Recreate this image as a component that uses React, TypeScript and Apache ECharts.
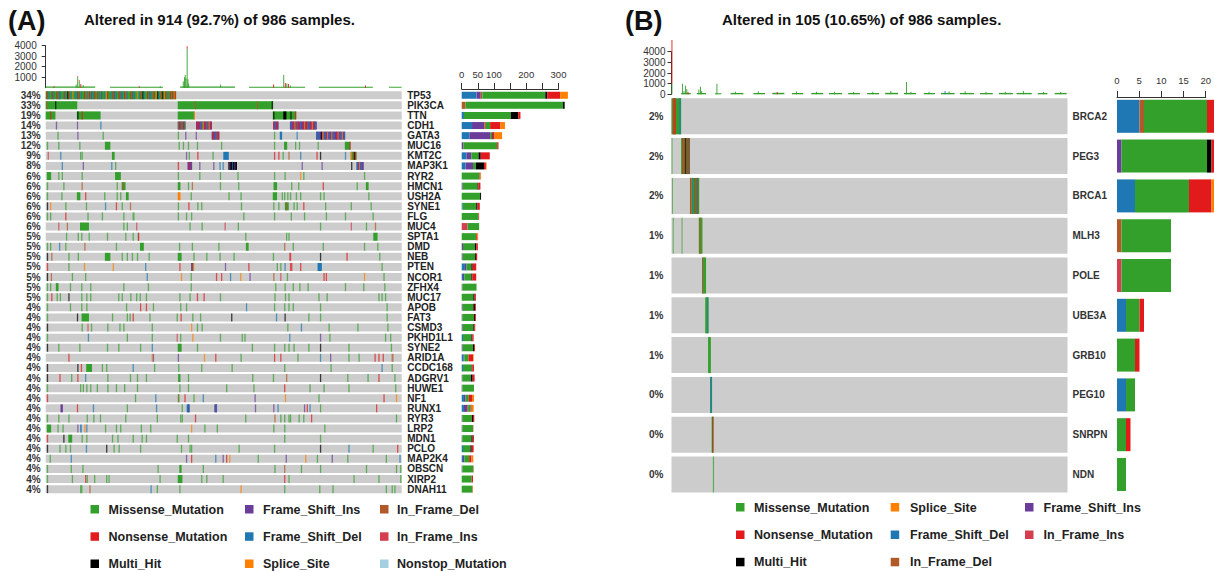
import React, { useEffect, useRef } from 'react';
import * as echarts from 'echarts';

const FONT = "'Liberation Sans', Arial, sans-serif";

// ---------- classes ----------
const classNames = ['Missense_Mutation', 'Nonsense_Mutation', 'Multi_Hit', 'Frame_Shift_Ins', 'Frame_Shift_Del', 'Splice_Site', 'In_Frame_Del', 'In_Frame_Ins', 'Nonstop_Mutation'];
const classCodes = ['M', 'N', 'H', 'I', 'D', 'S', 'F', 'R', 'X'];
const classColors = ['#33A02C', '#E31A1C', '#000000', '#6A3D9A', '#1F78B4', '#FF7F00', '#B15928', '#D53E4F', '#A6CEE3'];
const stackOrder = ['D', 'I', 'F', 'R', 'M', 'H', 'N', 'X', 'S'];

// ---------- panel A ----------
const titleA = 'Altered in 914 (92.7%) of 986 samples.';
const samplesA = 914;
const genesA = ['TP53', 'PIK3CA', 'TTN', 'CDH1', 'GATA3', 'MUC16', 'KMT2C', 'MAP3K1', 'RYR2', 'HMCN1', 'USH2A', 'SYNE1', 'FLG', 'MUC4', 'SPTA1', 'DMD', 'NEB', 'PTEN', 'NCOR1', 'ZFHX4', 'MUC17', 'APOB', 'FAT3', 'CSMD3', 'PKHD1L1', 'SYNE2', 'ARID1A', 'CCDC168', 'ADGRV1', 'HUWE1', 'NF1', 'RUNX1', 'RYR3', 'LRP2', 'MDN1', 'PCLO', 'MAP2K4', 'OBSCN', 'XIRP2', 'DNAH11'];
const pctA = [34, 33, 19, 14, 13, 12, 9, 8, 6, 6, 6, 6, 6, 6, 5, 5, 5, 5, 5, 5, 5, 4, 4, 4, 4, 4, 4, 4, 4, 4, 4, 4, 4, 4, 4, 4, 4, 4, 4, 4];

// mutation marks per gene: "start[-end]Class" (sample indices)
const matrixA = [
  '0-334M 2-3N 7-9D 15-16N 19-20D 27-28N 33I 36-37D 46N 50-51D 55H 58-59N 63-64D 68S 75-76D 80I 84-85N 90-91D 98-99N 103F 106-107D 111N 116I 120-121D 124N 132-133N 137-138D 142I 149-150D 154S 158-159N 166-167D 171N 175I 179-180D 187-188N 192I 196-197D 201N 205F 208-209D 217-218N 222I 226-227D 234S 239-240D 243-244N 248H 251-252D 260-261N 265I 269-270D 274F 277-278N 282S 286H 290-291D 295N 299H 303S 307-308N 312-313D 318-319N 322F 324-325N 329S 331-332N',
  '0-80M 2F 24H 339-583M 383F 542F 580H',
  '0-24M 11N 80-140M 81H 92N 339-381M 380S 583-642M 584H 610-617H 628H 640N',
  '26I 80I 140D 339-358I 339-341M 342-343N 346-347F 349-351M 353-354N 356-358M 386-426I 386-388N 391-393N 396-397D 401-402M 403-405S 407-409N 411-412F 414-416D 418-420S 422-424N 584-597I 584-586N 588-590D 593-595N 627-695I 629-631D 633-635N 638-640S 644-646F 648-650N 653-655D 659-661N 663-665S 667-669N 671-672F 674-676D 679-681N 683-685S 687-689N 691-693D',
  '30M 81I 146M 339M 358I 385I 426-445I 428-431N 434-436D 438-440F 442-444N 586M 601-606D 644D 694-768I 694-697D 700-702D 706-707H 710-713S 716-718D 722-724S 728-729D 733-735S 738-741D 745-746N 749-751S 755-757D 760-762S 765-767D',
  '3M 32M 86M 152-165M 341M 352M 365M 388M 450M 586M 612-619M 640M 650M 698M 768-781M 780N',
  '5R 37D 88M 92M 170-176M 360I 367M 389N 428M 456-469D 586N 597N 608M 623F 653D 695N 704H 768D 783-797M 783-785S 787-789F 791-793H 794-796N',
  '41D 95I 168D 178M 339N 364-375I 368-370N 394I 430I 446D 454D 469-490H 471-473I 478-480D 484-486I 657I 708I 784H 798-815I 798-801D 804-806S 809-811D 813-814I',
  '3-13M 32M 41M 92M 178-192M 339M 394M 447M 492M 586M 613M 653S 661M 817M',
  '3M 45M 92F 182M 195-204M 196-198F 339-345M 365M 375F 447M 494M 585-593M 630M 648M 711N 798M 822-828M',
  '3M 40M 80-88M 101N 150M 182M 191M 206-212M 339-345S 372M 469M 500M 583-593M 606M 612M 620M 627M 642M 653M 704M 713M 828M',
  '3H 11S 50M 103M 152D 180N 195M 216F 339M 366N 389M 399M 501M 584M 597M 614-623M 616F 636M 644M 661N 717M 783M 834M',
  '3M 11M 50N 107M 144M 199M 223-227M 339M 360M 373M 507M 586M 629M 663M 719M 768M 839M',
  '32R 54F 88-110M 199M 208M 232R 369M 400M 459R 493M 704M 783R 822M 845F',
  '52M 82M 91M 110M 157M 204M 223M 236M 237N 512M 617M 623M 841-851M',
  '3M 11M 34D 50M 99F 180M 242-251M 342M 375M 443M 514-520M 612F 634M 711M 817M 851M',
  '3H 14F 58M 82M 152-165M 195M 208M 221M 234M 264M 339-348M 379M 412M 446M 482M 583M 625R 627N 704H 772N 856M',
  '3N 58M 98S 172S 255D 343N 373-379D 374N 378S 460I 520N 593M 602M 613D 627N 630N 653N 698-708D 862M',
  '3H 13F 67M 101M 259D 347S 372M 437N 450N 473D 499S 523I 584F 602R 619M 713N 719N 817S 867M',
  '3M 11M 26-32M 62M 91M 114M 199M 262M 372M 589M 613M 634M 651M 672M 768M 815M 869M',
  '3M 14N 28M 36M 58H 91M 104M 114M 186M 195M 217M 232M 241M 257M 343M 369M 388N 405N 447M 587M 614M 623M 700M 721M 854M 862M 871M',
  '3M 62M 91M 104M 206M 242N 257N 275M 345M 360M 514D 586M 612M 623M 634M 704M 875M',
  '3M 80H 92-110M 170M 208M 215M 223N 266M 336M 346N 376M 396M 476H 591D 613H 674M 704M 875M',
  '3H 92M 107R 116M 158M 189M 199M 272M 373S 388M 400M 620M 655D 726M 800M 877M',
  '3M 108D 208M 272M 336R 345M 376S 447M 503M 510M 625D 704I 728M 871M 884M',
  '3H 32M 86M 157M 186M 242M 272D 339-348M 388M 529M 586M 612M 623M 636M 674M 704H 777M 886M',
  '58N 272S 275I 339I 406S 435N 500M 586N 602N 646M 704D 730I 777M 803M 844N 854N 865N 888-892F',
  '3H 81H 90N 104-118M 144M 155M 223D 278M 340M 399M 477M 612M 731M 862D 888M',
  '3H 35N 65M 81N 101D 158M 216M 234M 257M 340-345M 365M 530M 583M 617F 704H 774M 826M 854N 895M',
  '3M 88M 95M 104M 114M 131M 158M 180M 201M 234M 343M 365M 463M 533M 612N 677M 713M 777M 897M',
  '3N 229M 281D 339-342F 340M 356N 379M 403D 536I 614S 700M 867N 899S',
  '38-43I 80N 121D 208M 283D 349M 362-369D 365I 433-439I 436D 537I 584I 595D 663I 670N 677D 704M 848N',
  '3M 32M 58M 105M 122M 139M 204M 285M 345M 349M 383N 512M 587F 602M 612M 623M 627M 649M 661M 681N 899M',
  '3-13M 30M 43M 81I 88-92D 99S 104D 152M 180M 191M 244M 268M 373S 407M 439M 584M 612M 715M',
  '3N 45H 58-67M 92M 104M 170M 184M 223M 246M 257M 336M 365M 612M 704M',
  '3H 35M 50M 62M 103D 155H 174M 187M 242M 347M 369M 373M 495M 586M 704H 777D 839M 902N',
  '10M 64D 360I 373N 435D 454I 463N 471S 544M 616I 666S 696M 734I 774M 873M 908D',
  '3M 64M 94M 287M 343-348M 403M 587M 612F 655M 704M 822M 899M 910M',
  '3M 67M 101N 105M 124M 155M 161M 292M 339-350M 399M 412M 454M 612N 623M 790M 854M 910M',
  '3H 88M 91M 112F 269D 285M 343M 500S 612M 702M 736M 873M 888M 895M',
];

// TMB (total mutations per sample): [startSample, endSample, from, to, class]
const tmbA: [number, number, number, number, string][] = [
  [0, 127, 0, 110, 'M'], [165, 301, 0, 100, 'M'], [345, 486, 0, 110, 'M'], [522, 666, 0, 100, 'M'], [701, 840, 0, 100, 'M'], [881, 914, 0, 90, 'M'],
  [20, 21, 0, 150, 'N'], [77, 78, 0, 300, 'M'], [81, 82, 0, 1000, 'M'], [81, 82, 1000, 1100, 'N'], [85, 86, 0, 600, 'M'], [85, 86, 600, 700, 'N'],
  [89, 90, 0, 350, 'N'], [95, 96, 0, 250, 'M'], [239, 240, 0, 150, 'N'], [293, 294, 0, 150, 'M'],
  [352, 353, 0, 600, 'M'], [355, 356, 0, 1000, 'M'], [357, 358, 0, 1200, 'M'], [359, 360, 0, 900, 'M'], [362, 363, 0, 3700, 'M'], [362, 363, 3700, 3950, 'N'],
  [364, 365, 0, 800, 'M'], [366, 367, 0, 400, 'M'], [448, 449, 0, 300, 'M'], [584, 585, 0, 300, 'N'], [610, 611, 0, 1200, 'M'],
  [614, 615, 0, 450, 'N'], [618, 619, 0, 400, 'M'], [622, 623, 0, 350, 'N'], [627, 628, 0, 200, 'M'], [820, 821, 0, 200, 'N'],
];

// variant classification counts per gene (right bar)
const aFrameShiftDel = [46, 0, 7, 32, 24, 0, 15, 12, 0, 0, 0, 3, 0, 0, 0, 0, 0, 10, 4, 0, 0, 0, 0, 0, 4, 0, 6, 4, 0, 0, 7, 7, 0, 0, 0, 4, 4, 0, 0, 0];
const aFrameShiftIns = [13, 0, 0, 38, 64, 5, 15, 23, 0, 3, 0, 0, 0, 0, 0, 4, 3, 5, 4, 2, 0, 3, 2, 3, 0, 3, 2, 0, 2, 2, 5, 10, 2, 2, 2, 0, 4, 2, 0, 0];
const aInFrameDel = [5, 12, 0, 5, 0, 0, 0, 0, 0, 0, 0, 0, 0, 0, 0, 0, 0, 0, 0, 0, 0, 0, 0, 0, 0, 0, 0, 0, 0, 0, 0, 3, 0, 0, 0, 0, 0, 0, 0, 0];
const aInFrameIns = [0, 0, 0, 0, 0, 0, 0, 0, 0, 0, 0, 0, 0, 18, 0, 0, 0, 0, 0, 0, 0, 0, 0, 0, 0, 0, 0, 0, 0, 0, 0, 0, 0, 0, 0, 0, 0, 0, 0, 0];
const aMissense = [195, 302, 145, 13, 5, 105, 22, 9, 55, 46, 57, 42, 52, 36, 45, 37, 38, 15, 22, 44, 36, 33, 36, 33, 26, 32, 13, 27, 26, 36, 10, 8, 30, 33, 28, 23, 15, 34, 31, 33];
const aMultiHit = [6, 5, 23, 0, 3, 0, 7, 25, 0, 3, 3, 4, 0, 0, 0, 4, 3, 4, 3, 0, 4, 5, 3, 3, 3, 3, 0, 2, 6, 0, 0, 0, 3, 0, 4, 4, 0, 0, 0, 0];
const aNonsense = [40, 0, 7, 32, 6, 4, 28, 6, 3, 6, 0, 7, 2, 0, 4, 5, 4, 11, 12, 0, 4, 3, 3, 3, 4, 3, 14, 5, 6, 0, 10, 3, 4, 1, 4, 6, 7, 1, 4, 1];
const aNonstop = [0, 0, 0, 0, 0, 0, 0, 0, 0, 0, 0, 0, 0, 0, 0, 0, 0, 0, 0, 0, 0, 0, 0, 0, 0, 0, 0, 0, 0, 0, 0, 0, 0, 0, 0, 0, 0, 0, 0, 0];
const aSplice = [24, 0, 0, 14, 23, 0, 0, 2, 2, 0, 0, 0, 0, 0, 2, 0, 0, 0, 0, 0, 0, 0, 0, 0, 0, 0, 2, 0, 0, 0, 6, 6, 0, 0, 0, 0, 6, 0, 0, 1];
const barTicksA = [0, 50, 100, 200, 300];

// ---------- panel B ----------
const titleB = 'Altered in 105 (10.65%) of 986 samples.';
const samplesB = 986;
const genesB = ['BRCA2', 'PEG3', 'BRCA1', 'MLH3', 'POLE', 'UBE3A', 'GRB10', 'PEG10', 'SNRPN', 'NDN'];
const pctB = [2, 2, 2, 1, 1, 1, 1, 0, 0, 0];
const matrixB = [
  '0-23M 3-9F 5-6N 8-9N 19-22D',
  '0M 24-45M 26-27N 28-29F 31-32N 34-35H 37-38N 40-41I 43-44N',
  '1M 46-68M 46-47N 48-49S 50-53D 57-58N 61-62D 64-65N',
  '3M 25M 68-76M 69-72F',
  '76-85M 76-77R',
  '84-91M 89-91D',
  '91-97M',
  '96-100D 97-98M',
  '100-104M 101-103N',
  '103-105M',
];
const tmbB: [number, number, number, number, string][] = [
  [0, 1, 1000, 5100, 'N'], [0, 2, 0, 1000, 'M'],
  [24, 48, 0, 120, 'M'], [26, 27, 0, 1000, 'M'], [30, 31, 0, 300, 'M'], [34, 35, 0, 800, 'M'], [37, 38, 0, 500, 'M'], [40, 41, 0, 250, 'N'],
  [63, 86, 0, 120, 'M'], [67, 68, 0, 450, 'M'], [71, 72, 0, 700, 'M'], [74, 75, 0, 300, 'M'],
  [108, 124, 0, 100, 'M'], [112, 113, 0, 1000, 'M'],
  [147, 179, 0, 130, 'M'], [158, 159, 0, 250, 'M'], [204, 233, 0, 120, 'M'], [215, 216, 0, 280, 'M'],
  [251, 281, 0, 140, 'M'], [262, 263, 0, 220, 'N'], [300, 328, 0, 120, 'M'], [310, 311, 0, 260, 'M'],
  [348, 378, 0, 130, 'M'], [360, 361, 0, 230, 'M'], [392, 425, 0, 120, 'M'], [405, 406, 0, 250, 'M'],
  [440, 469, 0, 130, 'M'], [452, 453, 0, 210, 'M'], [487, 517, 0, 120, 'M'], [500, 501, 0, 240, 'M'],
  [532, 564, 0, 140, 'M'], [545, 546, 0, 300, 'M'], [579, 609, 0, 130, 'M'], [584, 585, 0, 1150, 'M'], [595, 596, 0, 250, 'M'],
  [628, 656, 0, 120, 'M'], [640, 641, 0, 230, 'M'], [671, 705, 0, 130, 'M'], [680, 681, 0, 300, 'D'], [690, 691, 0, 260, 'M'],
  [718, 753, 0, 130, 'M'], [730, 731, 0, 280, 'M'], [768, 800, 0, 120, 'M'], [782, 783, 0, 250, 'M'],
  [815, 850, 0, 130, 'M'], [830, 831, 0, 230, 'M'], [859, 897, 0, 130, 'M'], [875, 876, 0, 300, 'M'],
  [912, 936, 0, 120, 'M'], [925, 926, 0, 240, 'M'], [954, 984, 0, 130, 'M'], [968, 969, 0, 220, 'M'],
];
const bFrameShiftDel = [5, 0, 4, 0, 0, 2, 0, 2, 0, 0];
const bFrameShiftIns = [0, 1, 0, 0, 0, 0, 0, 0, 0, 0];
const bInFrameDel = [1, 0, 0, 1, 0, 0, 0, 0, 0, 0];
const bInFrameIns = [0, 0, 0, 0, 1, 0, 0, 0, 0, 0];
const bMissense = [14, 19, 12, 11, 11, 3, 4, 2, 2, 2];
const bMultiHit = [0, 1, 0, 0, 0, 0, 0, 0, 0, 0];
const bNonsense = [3, 2, 5, 0, 0, 1, 1, 0, 1, 0];
const bSplice = [0, 0, 1, 0, 0, 0, 0, 0, 0, 0];

const legendA = [['M', 'N', 'H'], ['I', 'D', 'S'], ['F', 'R', 'X']];
const legendB = [['M', 'N', 'H'], ['S', 'D', 'F'], ['I', 'R']];

// ---------- helpers ----------
const ci = (code: string) => classCodes.indexOf(code);

function parseMarks(rows: string[]) {
  const out: number[][] = [];
  rows.forEach((row, g) => {
    row.trim().split(/\s+/).forEach((tok) => {
      const m = tok.match(/^(\d+)(?:-(\d+))?([A-Z])$/);
      if (!m) return;
      const s = +m[1];
      const e = (m[2] ? +m[2] : s) + 1;
      out.push([s, e, g, ci(m[3])]);
    });
  });
  return out;
}

function rowRender(ratio: number, minW: number, fill?: string) {
  return (params: any, api: any) => {
    const s = api.value(0), e = api.value(1), g = api.value(2);
    const p0 = api.coord([s, g]);
    const p1 = api.coord([e, g]);
    const h = api.size([0, 1])[1] * ratio;
    const raw = p1[0] - p0[0];
    const w = Math.max(raw, minW);
    const color = fill || classColors[api.value(3)];
    const opacity = !fill && raw < 2 ? 0.72 : 1;
    return { type: 'rect', shape: { x: p0[0], y: p0[1] - h / 2, width: w, height: h }, style: { fill: color, opacity } };
  };
}

function tmbRender(params: any, api: any) {
  const s = api.value(0), e = api.value(1), lo = api.value(2), hi = api.value(3);
  const p0 = api.coord([s, lo]);
  const p1 = api.coord([e, hi]);
  const w = Math.max(p1[0] - p0[0], 0.9);
  return { type: 'rect', shape: { x: p0[0], y: p1[1], width: w, height: p0[1] - p1[1] }, style: { fill: classColors[api.value(4)] } };
}

function legendGraphics(cols: string[][], xs: number[][], ys: number[]) {
  const els: any[] = [];
  cols.forEach((col, c) => {
    col.forEach((code, r) => {
      const y = ys[r];
      els.push({ type: 'rect', shape: { x: xs[c][0], y: y - 4.5, width: 8.5, height: 8.5 }, style: { fill: classColors[ci(code)] } });
      els.push({ type: 'text', x: xs[c][1], y, style: { text: classNames[ci(code)], fontFamily: FONT, fontSize: 12.5, fontWeight: 'bold', fill: '#222', verticalAlign: 'middle', textVerticalAlign: 'middle' } });
    });
  });
  return els;
}

function buildOption() {
  const aBars: Record<string, number[]> = { D: aFrameShiftDel, I: aFrameShiftIns, F: aInFrameDel, R: aInFrameIns, M: aMissense, H: aMultiHit, N: aNonsense, X: aNonstop, S: aSplice };
  const bBars: Record<string, number[]> = { D: bFrameShiftDel, I: bFrameShiftIns, F: bInFrameDel, R: bInFrameIns, M: bMissense, H: bMultiHit, N: bNonsense, S: bSplice };

  const hidden = { show: false };
  const valAxisHidden = (gridIndex: number, max: number) => ({ type: 'value', gridIndex, min: 0, max, show: false });
  const catAxis = (gridIndex: number, data: string[], position: string, show: boolean, margin: number, color: string) => ({
    type: 'category', gridIndex, data, inverse: true, position, show,
    axisLine: hidden, axisTick: hidden,
    axisLabel: { show, interval: 0, margin, fontSize: 10, fontWeight: 'bold', fontFamily: FONT, color },
  });
  const tmbAxis = (gridIndex: number, offset: number, raiseZero: boolean) => ({
    type: 'value', gridIndex, min: 0, max: 4000, interval: 1000, position: 'left', offset,
    axisLine: { show: true, lineStyle: { color: '#333', width: 1 } },
    axisTick: { show: true, length: 4, lineStyle: { color: '#333' } },
    splitLine: hidden,
    axisLabel: {
      fontSize: 10, fontFamily: FONT, color: '#333', margin: 6,
      formatter: (v: number) => (raiseZero && v === 0 ? '{z|0}' : String(v)),
      rich: { z: { fontSize: 10, fontFamily: FONT, color: '#333', padding: [0, 0, 6, 0] } },
    },
  });

  // B bar grid: 4.5 px per mutation, grid runs to the canvas edge
  const bBarLeft = 1117;
  const bBarWidth = 1214 - bBarLeft;
  const bBarMax = bBarWidth / 4.5;

  const series: any[] = [];
  // Panel A
  series.push({ type: 'custom', name: 'tmbA', xAxisIndex: 0, yAxisIndex: 0, renderItem: tmbRender, encode: { x: [0, 1], y: [2, 3] },
    data: tmbA.map((d) => [d[0], d[1], d[2], d[3], ci(d[4])]), silent: true });
  series.push({ type: 'custom', name: 'bgA', xAxisIndex: 1, yAxisIndex: 1, renderItem: rowRender(0.79, 0, '#CCCCCC'), encode: { x: [0, 1], y: 2 },
    data: genesA.map((_, i) => [0, samplesA, i]), silent: true });
  series.push({ type: 'custom', name: 'matA', xAxisIndex: 1, yAxisIndex: 1, renderItem: rowRender(0.79, 1.3), encode: { x: [0, 1], y: 2 },
    data: parseMarks(matrixA), silent: true });
  stackOrder.forEach((code) => {
    series.push({ type: 'bar', name: classNames[ci(code)], xAxisIndex: 2, yAxisIndex: 3, stack: 'A', barWidth: 7,
      itemStyle: { color: classColors[ci(code)] }, data: aBars[code], silent: true });
  });
  // Panel B
  series.push({ type: 'custom', name: 'tmbB', xAxisIndex: 4, yAxisIndex: 5, renderItem: tmbRender, encode: { x: [0, 1], y: [2, 3] }, clip: false,
    data: tmbB.map((d) => [d[0], d[1], d[2], d[3], ci(d[4])]), silent: true });
  series.push({ type: 'custom', name: 'bgB', xAxisIndex: 5, yAxisIndex: 6, renderItem: rowRender(0.905, 0, '#CCCCCC'), encode: { x: [0, 1], y: 2 },
    data: genesB.map((_, i) => [0, samplesB, i]), silent: true });
  series.push({ type: 'custom', name: 'matB', xAxisIndex: 5, yAxisIndex: 6, renderItem: rowRender(0.905, 1.0), encode: { x: [0, 1], y: 2 },
    data: parseMarks(matrixB), silent: true });
  stackOrder.forEach((code) => {
    if (!bBars[code]) return;
    series.push({ type: 'bar', name: classNames[ci(code)], xAxisIndex: 6, yAxisIndex: 8, stack: 'B', barWidth: 33,
      itemStyle: { color: classColors[ci(code)] }, data: bBars[code], silent: true });
  });

  const topAxis = (gridIndex: number, max: number, interval: number, margin: number, shown: number[] | null) => ({
    type: 'value', gridIndex, min: 0, max, interval, position: 'top',
    axisLine: { show: true, lineStyle: { color: '#333' } },
    axisTick: { show: true, length: 6, lineStyle: { color: '#333' } },
    splitLine: hidden,
    axisLabel: { fontSize: 9.5, fontFamily: FONT, color: '#333', margin, showMinLabel: true, showMaxLabel: true,
      formatter: (v: number) => (shown && shown.indexOf(v) < 0 ? '' : String(v)) },
  });

  const textEl = (text: string, x: number, y: number, size: number) => ({
    type: 'text', x, y, style: { text, fontFamily: FONT, fontSize: size, fontWeight: 'bold', fill: '#111', verticalAlign: 'middle', textVerticalAlign: 'middle' },
  });

  return {
    animation: false,
    backgroundColor: '#ffffff',
    grid: [
      { left: 45.7, top: 45.7, width: 356, height: 42 },
      { left: 45.7, top: 90.2, width: 356, height: 404 },
      { left: 461.7, top: 90.2, width: 129.1, height: 404 },
      { left: 461.7, top: 88, width: 96.8, height: 1 },
      { left: 671.5, top: 51.7, width: 396, height: 42.6 },
      { left: 671.5, top: 96.4, width: 396, height: 398 },
      { left: bBarLeft, top: 96.4, width: bBarWidth, height: 398 },
      { left: bBarLeft, top: 96, width: 90, height: 1 },
    ],
    xAxis: [
      valAxisHidden(0, samplesA),
      valAxisHidden(1, samplesA),
      valAxisHidden(2, 400),
      topAxis(3, 300, 50, 9, barTicksA),
      valAxisHidden(4, samplesB),
      valAxisHidden(5, samplesB),
      valAxisHidden(6, bBarMax),
      topAxis(7, 20, 5, 11, null),
    ],
    yAxis: [
      tmbAxis(0, 3, true),
      catAxis(1, pctA.map((p) => p + '%'), 'left', true, 5, '#333'),
      catAxis(1, genesA, 'right', true, 5.5, '#222'),
      catAxis(2, genesA, 'left', false, 0, '#222'),
      { type: 'value', gridIndex: 3, show: false },
      tmbAxis(4, 0, false),
      catAxis(5, pctB.map((p) => p + '%'), 'left', true, 8, '#333'),
      catAxis(5, genesB, 'right', true, 5, '#333'),
      catAxis(6, genesB, 'left', false, 0, '#222'),
      { type: 'value', gridIndex: 7, show: false },
    ],
    series,
    graphic: [
      textEl('(A)', 8, 21, 27),
      textEl(titleA, 84, 19, 15),
      textEl('(B)', 625, 21, 27),
      textEl(titleB, 722, 19, 15),
      ...legendGraphics(legendA, [[90.5, 108.5], [245, 263], [380, 397]], [509.5, 536.8, 564]),
      ...legendGraphics(legendB, [[736, 754], [890.7, 910], [1025, 1043.6]], [507.5, 535, 562.3]),
    ],
  };
}

export default function App() {
  const ref = useRef<HTMLDivElement>(null);
  useEffect(() => {
    if (!ref.current) return;
    const chart = echarts.init(ref.current, null, { renderer: 'svg' });
    chart.setOption(buildOption() as any);
    return () => chart.dispose();
  }, []);
  return (
    <div style={{ position: 'absolute', left: 0, top: 0, width: 1214, height: 572, overflow: 'hidden', background: '#fff' }}>
      <div ref={ref} style={{ width: 1214, height: 572 }} />
    </div>
  );
}
